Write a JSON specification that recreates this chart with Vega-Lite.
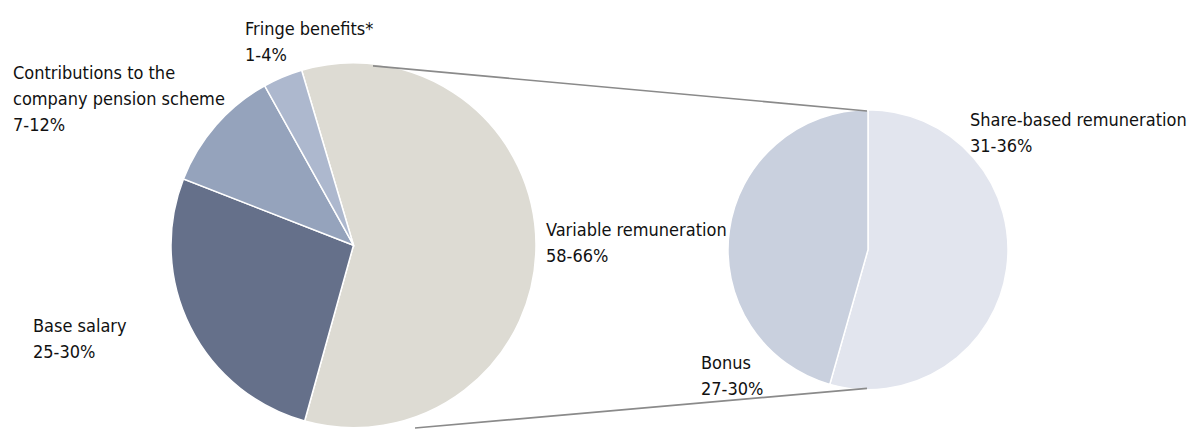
{
  "$schema": "https://vega.github.io/schema/vega-lite/v6.json",
  "width": 1189,
  "height": 432,
  "autosize": {"type": "fit", "contains": "padding"},
  "padding": 0,
  "background": "white",
  "config": {"view": {"stroke": null}},
  "datasets": {
    "left": [
      {"cat": "Variable remuneration", "share": 58.9, "idx": 1, "cx": 353.5, "cy": 247.5},
      {"cat": "Base salary", "share": 26.6, "idx": 2, "cx": 353.5, "cy": 247.5},
      {"cat": "Contributions to the company pension scheme", "share": 11.0, "idx": 3, "cx": 353.5, "cy": 247.5},
      {"cat": "Fringe benefits", "share": 3.5, "idx": 4, "cx": 353.5, "cy": 247.5}
    ],
    "right": [
      {"cat": "Share-based remuneration", "share": 54.4, "idx": 1, "cx": 868, "cy": 252},
      {"cat": "Bonus", "share": 45.6, "idx": 2, "cx": 868, "cy": 252}
    ],
    "links": [
      {"seg": "top", "px": 373, "py": 66.5},
      {"seg": "top", "px": 867, "py": 112},
      {"seg": "bottom", "px": 415, "py": 432},
      {"seg": "bottom", "px": 867, "py": 392}
    ],
    "labels": [
      {"label": "Fringe benefits*\n1-4%", "lx": 245, "ly": 35},
      {"label": "Contributions to the\ncompany  pension scheme\n7-12%", "lx": 13, "ly": 80},
      {"label": "Variable remuneration\n58-66%", "lx": 546, "ly": 238},
      {"label": "Base salary\n25-30%", "lx": 33, "ly": 335},
      {"label": "Share-based remuneration\n31-36%", "lx": 970, "ly": 127},
      {"label": "Bonus\n27-30%", "lx": 701, "ly": 372}
    ]
  },
  "layer": [
    {
      "data": {"name": "left"},
      "mark": {"type": "arc", "outerRadius": 182.5, "stroke": "white", "strokeWidth": 1.5},
      "encoding": {
        "x": {"field": "cx", "type": "quantitative", "scale": {"domain": [0, 1189]}, "axis": null},
        "y": {"field": "cy", "type": "quantitative", "scale": {"domain": [0, 432], "reverse": true}, "axis": null},
        "theta": {"field": "share", "type": "quantitative", "stack": true, "scale": {"range": [-0.288, 5.995]}},
        "order": {"field": "idx", "type": "quantitative"},
        "color": {
          "field": "cat", "type": "nominal", "legend": null,
          "scale": {
            "domain": ["Variable remuneration", "Base salary", "Contributions to the company pension scheme", "Fringe benefits", "Share-based remuneration", "Bonus"],
            "range": ["#dddbd3", "#65708a", "#95a3bc", "#adb8ce", "#e2e5ee", "#c9d0de"]
          }
        }
      }
    },
    {
      "data": {"name": "right"},
      "mark": {"type": "arc", "outerRadius": 140, "stroke": "white", "strokeWidth": 1.5},
      "encoding": {
        "x": {"field": "cx", "type": "quantitative", "scale": {"domain": [0, 1189]}, "axis": null},
        "y": {"field": "cy", "type": "quantitative", "scale": {"domain": [0, 432], "reverse": true}, "axis": null},
        "theta": {"field": "share", "type": "quantitative", "stack": true, "scale": {"range": [0, 6.2832]}},
        "order": {"field": "idx", "type": "quantitative"},
        "color": {"field": "cat", "type": "nominal", "legend": null}
      }
    },
    {
      "data": {"name": "links"},
      "mark": {"type": "line", "color": "#8a8a8a", "strokeWidth": 1.6},
      "encoding": {
        "x": {"field": "px", "type": "quantitative", "scale": {"domain": [0, 1189]}, "axis": null},
        "y": {"field": "py", "type": "quantitative", "scale": {"domain": [0, 432], "reverse": true}, "axis": null},
        "detail": {"field": "seg"}
      }
    },
    {
      "data": {"name": "labels"},
      "mark": {
        "type": "text", "align": "left", "baseline": "alphabetic", "lineBreak": "\n", "lineHeight": 26,
        "font": "Liberation Sans Narrow, DejaVu Sans Condensed, Roboto Condensed, sans-serif",
        "fontSize": 18, "color": "#111111"
      },
      "encoding": {
        "x": {"field": "lx", "type": "quantitative", "scale": {"domain": [0, 1189]}, "axis": null},
        "y": {"field": "ly", "type": "quantitative", "scale": {"domain": [0, 432], "reverse": true}, "axis": null},
        "text": {"field": "label"}
      }
    }
  ],
  "resolve": {"scale": {"theta": "independent"}}
}
